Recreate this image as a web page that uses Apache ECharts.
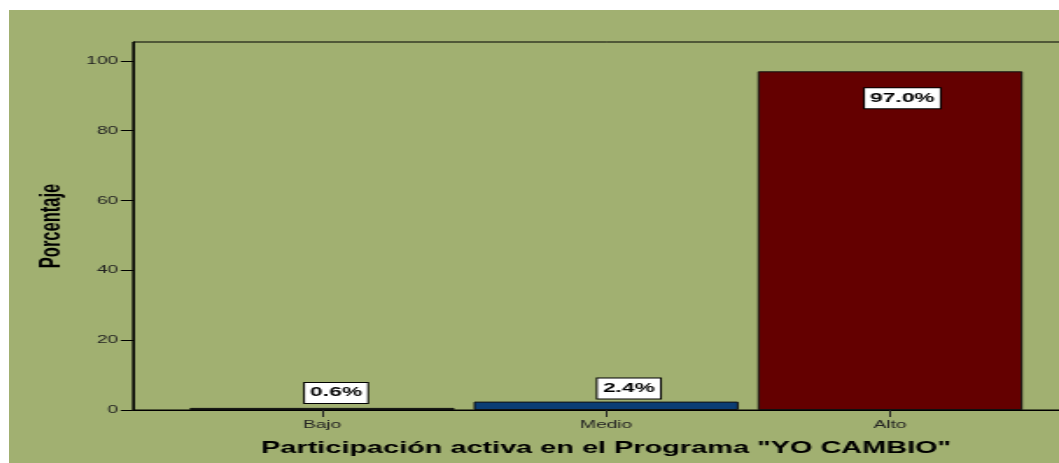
<!DOCTYPE html>
<html>
<head>
<meta charset="utf-8">
<script src="https://cdn.jsdelivr.net/npm/echarts@6/dist/echarts.min.js"></script>
<style>
  html, body { margin: 0; background: #fff; overflow: hidden; width: 1059px; height: 463px; }
  /* the original picture is stretched sideways, so the chart is drawn narrow and widened */
  #chart { position: absolute; left: 9px; top: 10px; width: 640px; height: 453px;
           transform: scaleX(1.75); transform-origin: 0 0; }
</style>
</head>
<body>
<div id="chart"></div>
<script>
const categories = ['Bajo', 'Medio', 'Alto'];
const percentages = [0.6, 2.4, 97.0];
const yTicks = [0, 20, 40, 60, 80, 100];

const barColors = ['#1b3319', '#0b3d74', '#640000'];
// label spot for each bar: [position, distance, offset]
const labelSpots = [['top', 5, [8, 0]], ['top', 3, [13, 0]], ['insideTop', 17, [7, 0]]];

let myChart = echarts.init(document.getElementById('chart'));

let barData = percentages.map((v, i) => ({
  value: [i, v],
  itemStyle: { color: barColors[i] },
  label: { position: labelSpots[i][0], distance: labelSpots[i][1], offset: labelSpots[i][2] }
}));

myChart.setOption({
  backgroundColor: '#a1b071',
  animation: false,
  textStyle: { fontFamily: 'Liberation Sans, Arial, sans-serif' },
  grid: {
    left: 70.9, top: 32, width: 540.6, height: 368,
    show: true, borderColor: '#000', borderWidth: 1, backgroundColor: 'transparent'
  },
  xAxis: {
    type: 'value',
    min: -0.6655, max: 2.6655,
    name: 'Participación activa en el Programa "YO CAMBIO"',
    nameLocation: 'middle',
    nameGap: 30,
    nameTextStyle: { fontSize: 16.5, fontWeight: 'bold', color: '#000' },
    axisLine: { lineStyle: { color: '#000', width: 1 } },
    axisTick: { show: true, length: 7, customValues: [0, 1, 2], lineStyle: { color: '#222' } },
    axisLabel: {
      customValues: [0, 1, 2],
      formatter: v => categories[Math.round(v)],
      fontSize: 11, color: '#222', margin: 9
    },
    splitLine: { show: false }
  },
  yAxis: {
    type: 'value',
    min: 0, max: 105.4,
    name: 'Porcentaje',
    nameLocation: 'middle',
    nameGap: 38,
    nameTextStyle: { fontSize: 16.5, fontWeight: 'bold', color: '#000',
      fontFamily: 'Liberation Sans Narrow, Arial Narrow, Liberation Sans, sans-serif' },
    axisLine: { show: true, onZero: false, lineStyle: { color: '#000', width: 1 } },
    axisTick: { show: true, length: 7, customValues: yTicks, lineStyle: { color: '#000' } },
    axisLabel: { customValues: yTicks, fontSize: 11, color: '#222', margin: 8.5 },
    splitLine: { show: false }
  },
  series: [{
    type: 'bar',
    barWidth: 151.4,
    data: barData,
    itemStyle: { borderColor: '#111', borderWidth: 1 },
    label: {
      show: true,
      formatter: p => p.value[1].toFixed(1) + '%',
      fontSize: 13, fontWeight: 'bold', color: '#000',
      backgroundColor: '#fff', borderColor: '#000', borderWidth: 1,
      lineHeight: 14, padding: [3, 3]
    }
  }]
});
</script>
</body>
</html>
